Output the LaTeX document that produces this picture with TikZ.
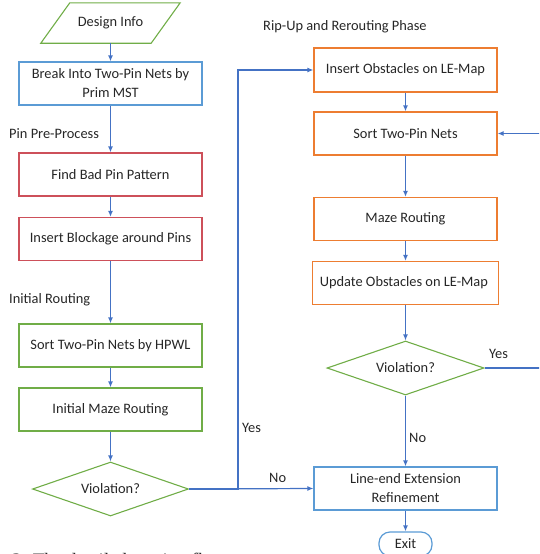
\documentclass[tikz,border=0pt]{standalone}
\usepackage{fontspec}
\setmainfont{Carlito}
\newfontfamily\capfont{Liberation Serif}
\usetikzlibrary{shapes.geometric,arrows.meta,calc}
\definecolor{cgreen}{RGB}{112,173,71}
\definecolor{cblue}{RGB}{91,155,213}
\definecolor{cred}{RGB}{205,80,90}
\definecolor{corange}{RGB}{237,125,49}
\definecolor{cline}{RGB}{68,114,196}
\tikzset{
  every node/.style={font=\fontsize{14.4}{19}\selectfont, text=black!85},
  box/.style={draw, line width=1.2pt, minimum width=183pt, minimum height=43pt, inner sep=0pt, align=center},
  gbox/.style={box, draw=cgreen},
  bbox/.style={box, draw=cblue},
  rbox/.style={box, draw=cred},
  obox/.style={box, draw=corange},
  decide/.style={diamond, draw=cgreen, line width=1.1pt, minimum width=156pt, minimum height=54pt, aspect=2.9, inner sep=0pt},
  lbl/.style={anchor=west, inner sep=0pt},
  conn/.style={draw=cline, line width=1.2pt, -{Latex[length=6pt,width=5pt]}},
}
\begin{document}
\begin{tikzpicture}[x=1pt,y=-1pt]
\useasboundingbox (0,0) rectangle (539,554);
\clip (0,0) rectangle (539,554);
% left column
\node (design) [minimum width=139pt, minimum height=40pt, inner sep=0pt] at (110.5,23) {Design Info};
\draw[draw=cgreen, line width=1.1pt] (design.south west) -- ($(design.south east)+(-29,0)$) -- (design.north east) -- ($(design.north west)+(29,0)$) -- cycle;
\node (break) [bbox] at (110.5,83.5) {Break Into Two-Pin Nets by \\ Prim MST};
\node (ppre) [lbl] at (9,134) {Pin Pre-Process};
\node (find) [rbox] at (110.5,174.5) {Find Bad Pin Pattern};
\node (block) [rbox] at (110.5,239) {Insert Blockage around Pins};
\node (iroute) [lbl] at (9,300) {Initial Routing};
\node (sort1) [gbox] at (110.5,345.5) {Sort Two-Pin Nets by HPWL};
\node (maze1) [gbox] at (110.5,409.5) {Initial Maze Routing};
\node (viol1) [decide] at (110.5,489) {Violation?};
% right column
\node (phase) [lbl] at (263,27) {Rip-Up and Rerouting Phase};
\node (ins) [obox, minimum height=44pt] at (405.5,70) {Insert Obstacles on LE-Map};
\node (sort2) [obox] at (405.5,133.5) {Sort Two-Pin Nets};
\node (maze2) [obox] at (405.5,219) {Maze Routing};
\node (upd) [obox, minimum width=186pt] at (405.5,283) {Update Obstacles on LE-Map };
\node (viol2) [decide, minimum width=157pt] at (405.5,368) {Violation?};
\node (lineend) [bbox] at (405.5,488.5) {Line-end Extension \\ Refinement };
\node (exit) [draw=cblue, line width=1.2pt, rounded corners=11pt, minimum width=53pt, minimum height=24pt, inner sep=0pt] at (405.5,544) {Exit};
\coordinate (c1) at (238,489);
\coordinate (c2) at (238,70);
\coordinate (c3) at (560,368);
\coordinate (c4) at (560,133.5);
% connectors
\draw[conn] (design.south) -- (break);
\draw[conn] (break) -- (find);
\draw[conn] (find) -- (block);
\draw[conn] (block) -- (sort1);
\draw[conn] (sort1) -- (maze1);
\draw[conn] (maze1) -- (viol1);
\draw[conn] (viol1.east) -- (c1) -- (c2) -- (ins.west);
\draw[conn] (viol1.east) -- (lineend.west);
\draw[conn] (ins) -- (sort2);
\draw[conn] (sort2) -- (maze2);
\draw[conn] (maze2) -- (upd);
\draw[conn] (upd) -- (viol2);
\draw[conn] (viol2) -- (lineend);
\draw[conn] (lineend) -- (exit);
\draw[conn] (viol2.east) -- (c3) -- (c4) -- (sort2.east);
% labels
\node (yes1) [lbl] at (242,428) {Yes};
\node (no1) [lbl] at (269,478) {No};
\node (yes2) [lbl] at (489,354) {Yes};
\node (no2) [lbl] at (409,438) {No};
\node (cap) [anchor=north west, inner sep=0pt, font=\capfont\fontsize{19}{22}\selectfont] at (12,552.5) {2. The detailed routing flow};
\end{tikzpicture}
\end{document}
